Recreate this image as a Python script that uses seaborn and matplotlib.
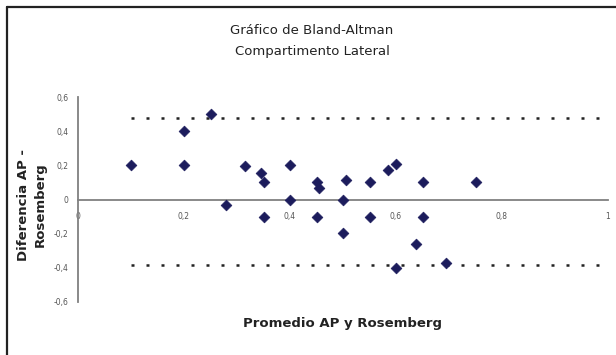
import matplotlib
matplotlib.use("Agg")
import matplotlib.pyplot as plt
import seaborn as sns
import pandas as pd
from matplotlib.lines import Line2D

sns.set_style("white")
plt.rcParams['font.family'] = ['DejaVu Sans']

# Data (mean of AP and Rosemberg, difference AP - Rosemberg)
promedio = [0.10, 0.20, 0.20, 0.25, 0.28, 0.315, 0.345, 0.35, 0.35, 0.40, 0.40,
            0.45, 0.455, 0.45, 0.505, 0.50, 0.50, 0.55, 0.55, 0.585, 0.60, 0.60,
            0.65, 0.65, 0.637, 0.695, 0.75]
diferencia = [0.20, 0.40, 0.20, 0.50, -0.035, 0.195, 0.155, 0.105, -0.10, 0.20, 0.0,
              0.105, 0.07, -0.10, 0.115, 0.0, -0.195, 0.105, -0.10, 0.17, 0.205, -0.40,
              0.105, -0.10, -0.26, -0.37, 0.105]
limite_sup = 0.478
limite_inf = -0.385
limite_x = [0.10, 1.0]

x_ticks = [0, 0.2, 0.4, 0.6, 0.8, 1.0]
x_ticklabels = ["0", "0,2", "0,4", "0,6", "0,8", "1"]
y_ticks = [-0.6, -0.4, -0.2, 0, 0.2, 0.4, 0.6]
y_ticklabels = ["-0,6", "-0,4", "-0,2", "0", "0,2", "0,4", "0,6"]

df = pd.DataFrame({"promedio": promedio, "diferencia": diferencia})

W, H = 616, 355
fig = plt.figure(figsize=(W / 100, H / 100), dpi=100)
fig.patch.set_facecolor("white")
ax = fig.add_axes([78 / W, 1 - 302 / H, 530 / W, 205 / H])

gray = "#808080"
ax.set_xlim(0, 1)
ax.set_ylim(-0.6, 0.6)

# limits of agreement (dotted)
for lim in (limite_sup, limite_inf):
    ax.plot(limite_x, [lim, lim], color="#222222", lw=1.8,
            linestyle=(0, (1.2, 4.8)), zorder=2)

sns.scatterplot(data=df, x="promedio", y="diferencia", ax=ax, marker="D",
                s=30, color="#1c1c5c", edgecolor="#1c1c5c", linewidth=0.5,
                zorder=3, legend=False)

for s in ("top", "right"):
    ax.spines[s].set_visible(False)
ax.spines["left"].set_color(gray)
ax.spines["left"].set_linewidth(1.3)
ax.spines["bottom"].set_position(("data", 0))
ax.spines["bottom"].set_color(gray)
ax.spines["bottom"].set_linewidth(1.3)

ax.set_xticks(x_ticks)
ax.set_xticklabels(x_ticklabels)
ax.set_yticks(y_ticks)
ax.set_yticklabels(y_ticklabels)
ax.tick_params(axis="both", labelsize=5.5, colors=gray, labelcolor="#555555",
               length=3, width=1, direction="out", pad=4)
ax.tick_params(axis="x", pad=6)
ax.set_xlabel("")
ax.set_ylabel("")

# Titles and labels
txt = "#222222"
fig.text(312 / W, 1 - 30 / H, "Gráfico de Bland-Altman", ha="center", va="center",
         fontsize=9.5, color=txt)
fig.text(312 / W, 1 - 52 / H, "Compartimento Lateral", ha="center", va="center",
         fontsize=9.5, color=txt)
fig.text(343 / W, 1 - 323 / H, "Promedio AP y Rosemberg", ha="center", va="center",
         fontsize=9.5, fontweight="bold", color=txt)
fig.text(32 / W, 1 - 205 / H, "Diferencia AP -\nRosemberg", ha="center", va="center",
         rotation=90, fontsize=9.5, fontweight="bold", color=txt,
         linespacing=1.45, multialignment="center")

# outer frame (left and top edges visible)
fig.add_artist(Line2D([7 / W, 7 / W], [0, 1 - 7 / H], transform=fig.transFigure,
                      color="#222222", lw=1.6))
fig.add_artist(Line2D([7 / W, 1], [1 - 7 / H, 1 - 7 / H], transform=fig.transFigure,
                      color="#222222", lw=1.6))

fig.savefig("out.png", dpi=100, facecolor="white")
